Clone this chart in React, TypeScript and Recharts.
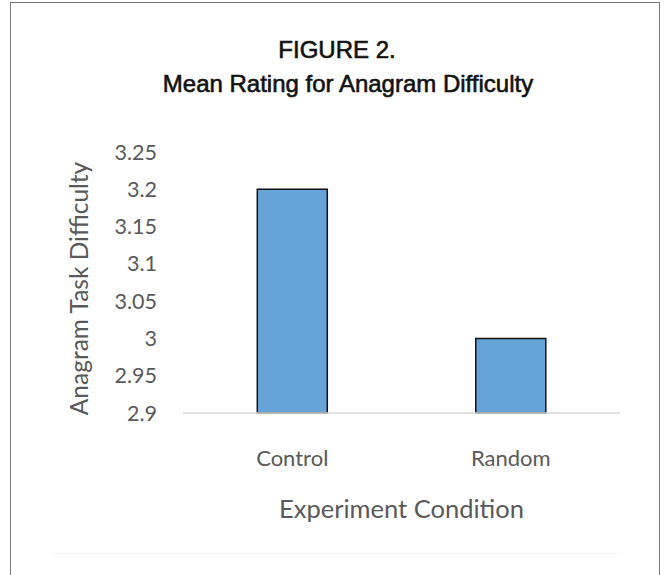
import { BarChart, Bar, XAxis, YAxis, Label } from 'recharts';

const conditions = ['Control', 'Random'];
const meanRatings = [3.2, 3.0];
const yTicks = [2.9, 2.95, 3, 3.05, 3.1, 3.15, 3.2, 3.25];

const data = conditions.map((c, i) => ({ condition: c, rating: meanRatings[i] }));

const gray = '#595959';
const font = 'Lato, "Open Sans", sans-serif';
const titleFont = '"Liberation Sans", Arial, sans-serif';

export default function App() {
  return (
    <div
      style={{
        position: 'absolute',
        left: 0,
        top: 0,
        width: 670,
        height: 575,
        background: '#fff',
        overflow: 'hidden',
      }}
    >
      {/* figure frame */}
      <div
        style={{
          position: 'absolute',
          left: 10,
          top: 2,
          width: 648,
          height: 620,
          border: '1.5px solid #7a7a7a',
        }}
      />
      <div style={{ position: 'absolute', left: 51, top: 553, width: 571, height: 1, background: '#f6f6f6' }} />

      <svg style={{ position: 'absolute', left: 0, top: 0 }} width={670} height={120}>
        <text x={337} y={58} textAnchor="middle" fontFamily={titleFont} fontSize={24} fill="#111" stroke="#111" strokeWidth={0.6}>
          FIGURE 2.
        </text>
        <text x={348} y={92} textAnchor="middle" fontFamily={titleFont} fontSize={24} fill="#111" stroke="#111" strokeWidth={0.6}>
          Mean Rating for Anagram Difficulty
        </text>
      </svg>

      <div style={{ position: 'absolute', left: 0, top: 0 }}>
        <BarChart
          width={670}
          height={575}
          data={data}
          margin={{ top: 152, right: 50, bottom: 0, left: 0 }}
          barCategoryGap="34%"
        >
          <XAxis
            dataKey="condition"
            height={162}
            tickLine={false}
            tickMargin={31}
            axisLine={{ stroke: '#d9d9d9', strokeWidth: 1.5 }}
            tick={{ fill: gray, fontSize: 22, fontFamily: font }}
          >
            <Label
              value="Experiment Condition"
              position="insideTop"
              offset={87}
              style={{ fill: gray, fontSize: 25.5, fontFamily: font }}
            />
          </XAxis>
          <YAxis
            width={183}
            domain={[2.9, 3.25]}
            ticks={yTicks}
            interval={0}
            axisLine={false}
            tickLine={false}
            tickMargin={20}
            tick={{ fill: gray, fontSize: 21.5, fontFamily: font }}
          >
            <Label
              value="Anagram Task Difficulty"
              angle={-90}
              position="insideLeft"
              offset={79}
              dy={6}
              style={{ fill: gray, fontSize: 24.5, fontFamily: font, textAnchor: 'middle' }}
            />
          </YAxis>
          <Bar dataKey="rating" fill="#66a3d9" stroke="#111" strokeWidth={1.5} isAnimationActive={false} />
        </BarChart>
      </div>
    </div>
  );
}
